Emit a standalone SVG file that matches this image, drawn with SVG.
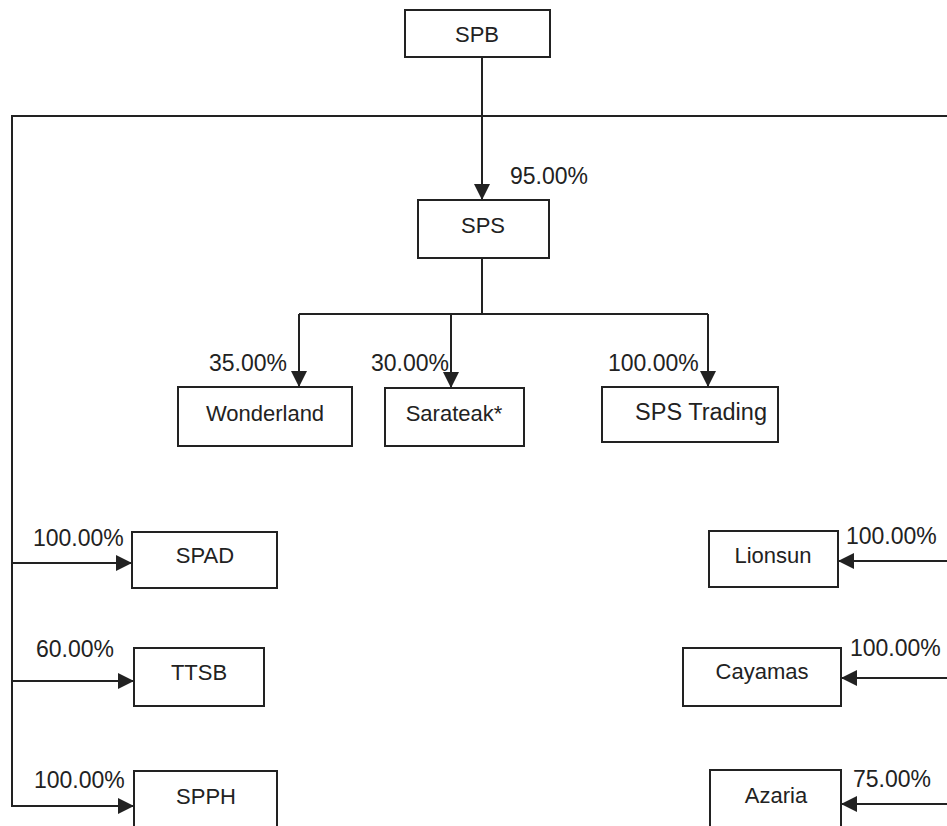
<svg xmlns="http://www.w3.org/2000/svg" width="947" height="826" viewBox="0 0 947 826">
<style>
.box{fill:#fff;stroke:#222;stroke-width:2}
.t{font-family:"Liberation Sans",Arial,sans-serif;font-size:22px;fill:#222}
.p{font-size:23px}
.c{text-anchor:middle}
.ln{fill:none;stroke:#222;stroke-width:2}
</style>
<defs>
<marker id="ah" markerUnits="userSpaceOnUse" markerWidth="16" markerHeight="16" viewBox="0 0 16 16" refX="16" refY="8" orient="auto">
<path d="M0,0 L16,8 L0,16 Z" fill="#222"/>
</marker>
</defs>
<rect width="947" height="826" fill="#fff"/>
<g id="connectors">
<line class="ln" x1="482" y1="58" x2="482" y2="200" marker-end="url(#ah)"/>
<polyline class="ln" points="947,116 12,116 12,807"/>
<line class="ln" x1="482" y1="258" x2="482" y2="314"/>
<line class="ln" x1="299" y1="314" x2="708" y2="314"/>
<line class="ln" x1="299" y1="314" x2="299" y2="387" marker-end="url(#ah)"/>
<line class="ln" x1="451" y1="314" x2="451" y2="388" marker-end="url(#ah)"/>
<line class="ln" x1="708" y1="314" x2="708" y2="387" marker-end="url(#ah)"/>
<line class="ln" x1="12" y1="563" x2="132" y2="563" marker-end="url(#ah)"/>
<line class="ln" x1="12" y1="681" x2="134" y2="681" marker-end="url(#ah)"/>
<line class="ln" x1="12" y1="806" x2="134" y2="806" marker-end="url(#ah)"/>
<line class="ln" x1="947" y1="561" x2="838" y2="561" marker-end="url(#ah)"/>
<line class="ln" x1="947" y1="678" x2="841" y2="678" marker-end="url(#ah)"/>
<line class="ln" x1="947" y1="804" x2="841" y2="804" marker-end="url(#ah)"/>
<text class="t p" x="510" y="184">95.00%</text>
<text class="t p" x="209" y="371">35.00%</text>
<text class="t p" x="371" y="371">30.00%</text>
<text class="t p" x="608" y="371">100.00%</text>
<text class="t p" x="33" y="546">100.00%</text>
<text class="t p" x="36" y="657">60.00%</text>
<text class="t p" x="34" y="788">100.00%</text>
<text class="t p" x="846" y="544">100.00%</text>
<text class="t p" x="850" y="656">100.00%</text>
<text class="t p" x="853" y="787">75.00%</text>
</g>
<g id="SPB"><rect class="box" x="405" y="10" width="145" height="47"/><text class="t c" x="477" y="42">SPB</text></g>
<g id="SPS"><rect class="box" x="418" y="200" width="131" height="58"/><text class="t c" x="483" y="233">SPS</text></g>
<g id="Wonderland"><rect class="box" x="178" y="387" width="174" height="59"/><text class="t c" x="265" y="421">Wonderland</text></g>
<g id="Sarateak"><rect class="box" x="385" y="388" width="139" height="58"/><text class="t c" x="454" y="421">Sarateak*</text></g>
<g id="SPSTrading"><rect class="box" x="602" y="387" width="176" height="55"/><text class="t c" x="701" y="420" style="font-size:23.5px">SPS Trading</text></g>
<g id="SPAD"><rect class="box" x="132" y="532" width="145" height="56"/><text class="t c" x="205" y="563">SPAD</text></g>
<g id="TTSB"><rect class="box" x="134" y="648" width="130" height="58"/><text class="t c" x="199" y="680">TTSB</text></g>
<g id="SPPH"><rect class="box" x="134" y="771" width="143" height="70"/><text class="t c" x="206" y="804">SPPH</text></g>
<g id="Lionsun"><rect class="box" x="709" y="531" width="129" height="56"/><text class="t c" x="773" y="563">Lionsun</text></g>
<g id="Cayamas"><rect class="box" x="683" y="648" width="158" height="58"/><text class="t c" x="762" y="679">Cayamas</text></g>
<g id="Azaria"><rect class="box" x="710" y="770" width="131" height="70"/><text class="t c" x="776" y="803">Azaria</text></g>
</svg>
